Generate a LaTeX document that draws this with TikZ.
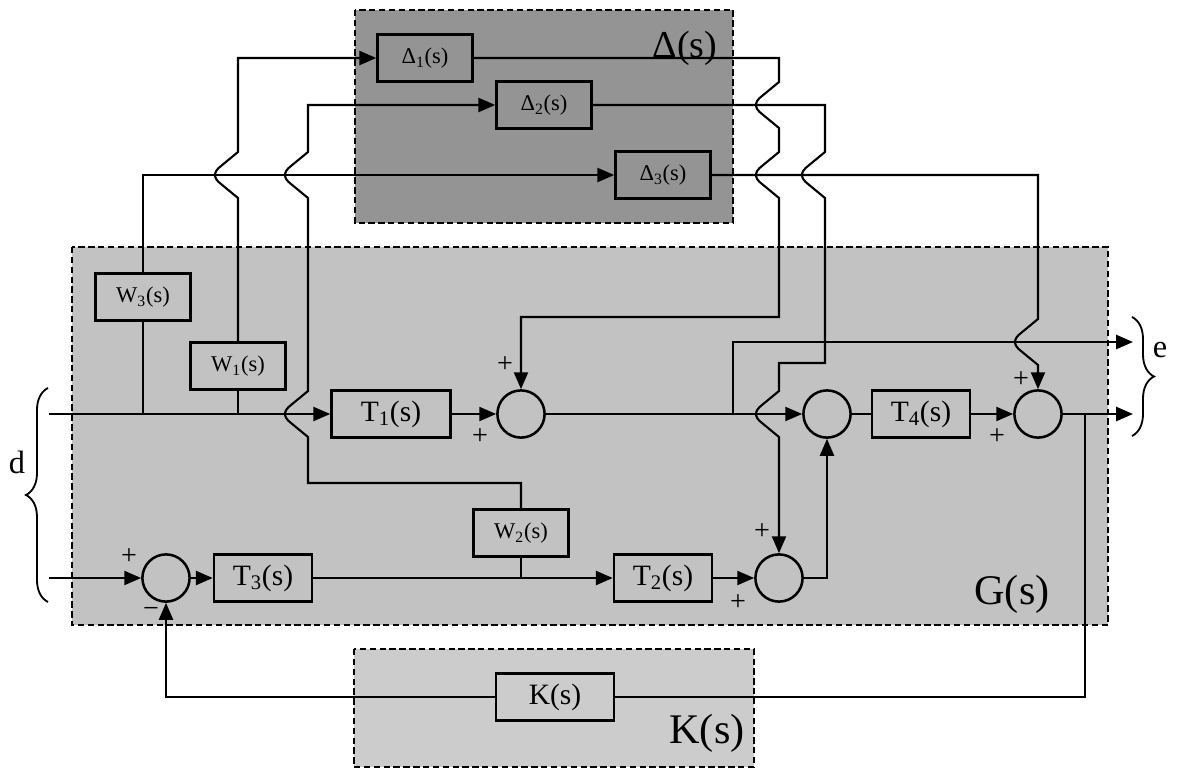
\documentclass[tikz,border=0pt]{standalone}
\usepackage{fontspec}
\setmainfont{Liberation Serif}
\usetikzlibrary{arrows.meta, decorations.pathreplacing}

\definecolor{deltagray}{gray}{0.58}
\definecolor{plantgray}{gray}{0.76}
\definecolor{ctrlgray}{gray}{0.80}

\tikzset{
  blk/.style={draw, line width=1.8pt, minimum width=2.45cm, minimum height=1.18cm, inner sep=0pt, font=\fontsize{21}{23}\selectfont},
  smallblk/.style={blk, minimum width=2.375cm, font=\fontsize{16}{18}\selectfont},
  sum/.style={draw, circle, line width=1.8pt, minimum size=1.18cm, inner sep=0pt},
  region/.style={dash pattern=on 4.5pt off 2.5pt, line width=1.2pt},
  sig/.style={line width=1.5pt, -{Triangle[length=12pt, width=10pt]}},
  wire/.style={line width=1.5pt},
  sgn/.style={font=\fontsize{20}{22}\selectfont, inner sep=0pt},
  big/.style={font=\fontsize{30}{32}\selectfont, inner sep=0pt},
  lbl/.style={font=\fontsize{23}{25}\selectfont, inner sep=0pt},
  curly/.style={decorate, decoration={brace, amplitude=0.55cm}, line width=1.3pt},
}

% hop of a vertical wire round a horizontal one at (x,y)
\newcommand{\hopdown}[2]{-- (#1,#2-23) -- (#1-17,#2-9) .. controls (#1-25,#2-3) and (#1-25,#2+3) .. (#1-17,#2+9) -- (#1,#2+23)}
\newcommand{\hopup}[2]{-- (#1,#2+23) -- (#1-17,#2+9) .. controls (#1-25,#2+3) and (#1-25,#2-3) .. (#1-17,#2-9) -- (#1,#2-23)}

\begin{document}
\begin{tikzpicture}[x=0.025cm, y=-0.025cm]
\useasboundingbox (0,0) rectangle (1180,770);

% Regions
\draw[region, fill=deltagray] (355,10) rectangle (733,223);
\draw[region, fill=plantgray] (72,247) rectangle (1108,625);
\draw[region, fill=ctrlgray] (354,649) rectangle (754,767);
\node[big, font=\fontsize{27}{29}\selectfont] (dlab) at (685,48) {Δ(s)};
\node[big] (glab) at (1012,594) {G(s)};
\node[big] (klab) at (707,733) {K(s)};

% Uncertainty blocks
\node[smallblk] (D1) at (425,58) {Δ\textsubscript{1}(s)};
\node[smallblk] (D2) at (544,105) {Δ\textsubscript{2}(s)};
\node[smallblk] (D3) at (663,175) {Δ\textsubscript{3}(s)};

% Weights
\node[smallblk] (W3) at (143,297) {W\textsubscript{3}(s)};
\node[smallblk] (W1) at (238,366) {W\textsubscript{1}(s)};
\node[smallblk] (W2) at (521,533) {W\textsubscript{2}(s)};

% Plant and controller blocks
\node[blk, minimum width=2.975cm] (T1) at (391,414) {T\textsubscript{1}(s)};
\node[blk] (T3) at (263,578) {T\textsubscript{3}(s)};
\node[blk] (T2) at (663,578) {T\textsubscript{2}(s)};
\node[blk] (T4) at (921,414) {T\textsubscript{4}(s)};
\node[blk, minimum width=2.95cm] (K) at (555,697) {K(s)};

% Summing junctions
\node[sum] (S1) at (521,414) {};
\node[sum] (S2) at (827,414) {};
\node[sum] (S3) at (166,578) {};
\node[sum] (S4) at (779,578) {};
\node[sum] (S5) at (1038,414) {};

% Inputs and outputs
\coordinate (d1) at (49,414);
\coordinate (d2) at (49,578);
\coordinate (e1) at (1133,342);
\coordinate (e2) at (1133,414);

% Forward paths
\draw[sig] (d1) -- (T1);
\draw[sig] (T1) -- (S1);
\draw[sig] (S1) -- (S2);
\draw[sig] (733,414) -- (733,342) -- (e1);
\draw[wire] (S2) -- (T4);
\draw[sig] (T4) -- (S5);
\draw[sig] (S5) -- (e2);
\draw[sig] (d2) -- (S3);
\draw[sig] (S3) -- (T3);
\draw[sig] (T3) -- (T2);
\draw[sig] (T2) -- (S4);
\draw[sig] (S4.east) -| (S2.south);

% Feedback through K
\draw[wire] (1085,414) -- (1085,697) -- (K.east);
\draw[sig] (K.west) -| (S3.south);

% Weighted signals into the uncertainty
\draw[wire] (143,414) -- (W3.south);
\draw[sig] (W3.north) -- (143,175) -- (D3.west);
\draw[wire] (238,414) -- (W1.south);
\draw[sig] (W1.north) \hopup{238}{175} -- (238,58) -- (D1.west);
\draw[wire] (521,578) -- (W2.south);
\draw[sig] (W2.north) -- (521,483) -- (308,483) \hopup{308}{414} \hopup{308}{175} -- (308,105) -- (D2.west);

% Uncertainty outputs back into the plant
\draw[sig] (D1.east) -- (779,58) \hopdown{779}{105} \hopdown{779}{175} -- (779,317) -| (S1.north);
\draw[sig] (D2.east) -- (825,105) \hopdown{825}{175} -- (825,363) -- (779,363) \hopdown{779}{414} -- (S4.north);
\draw[sig] (D3.east) -- (1038,175) \hopdown{1038}{342} -- (S5.north);

% Signs
\node[sgn] at (505,365) {+};
\node[sgn] at (480,437) {+};
\node[sgn] at (129,557) {+};
\node[sgn] at (151,612) {−};
\node[sgn] at (762,532) {+};
\node[sgn] at (738,603) {+};
\node[sgn] at (1021,380) {+};
\node[sgn] at (997,437) {+};

% Braces
\draw[curly] (48,602) -- (48,388);
\node[lbl] (dname) at (17,462) {d};
\draw[curly] (1132,317) -- (1132,436);
\node[lbl] (ename) at (1160,350) {e};

\end{tikzpicture}
\end{document}
